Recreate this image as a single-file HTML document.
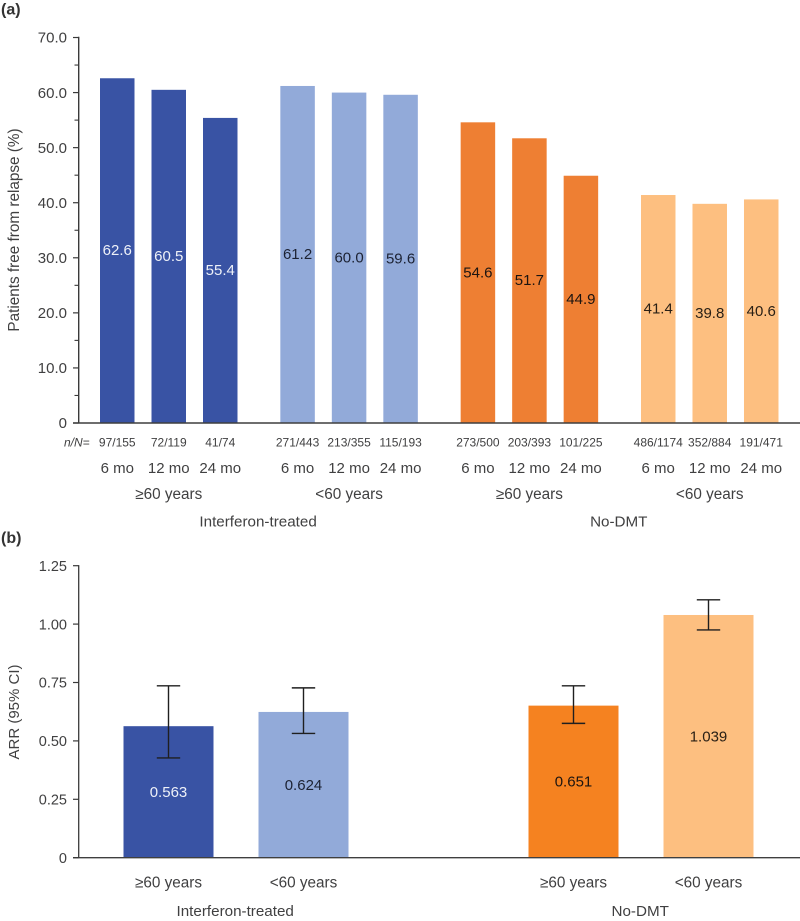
<!DOCTYPE html>
<html lang="en">
<head>
<meta charset="utf-8">
<title>Relapse-free patients and ARR</title>
<style>
html,body{margin:0;padding:0;background:#fff;}
svg{display:block;}
text{font-family:"Liberation Sans",Arial,sans-serif;fill:#404041;}
</style>
</head>
<body>
<svg id="figure" xmlns="http://www.w3.org/2000/svg" width="800" height="921" viewBox="0 0 800 921">
  <text x="1" y="14.5" font-size="16" font-weight="bold" style="fill:#333">(a)</text>
  <text x="1" y="543" font-size="16" font-weight="bold" style="fill:#333">(b)</text>
  <text transform="translate(19,230) rotate(-90)" text-anchor="middle" font-size="15.3">Patients free from relapse (%)</text>
  <text transform="translate(19,712) rotate(-90)" text-anchor="middle" font-size="15">ARR (95% CI)</text>
  <text x="64" y="446.7" font-size="12" font-style="italic">n/N=</text>
</svg>
<script>
// Panel (a) data
const relapseTicks = ["0", "10.0", "20.0", "30.0", "40.0", "50.0", "60.0", "70.0"];
const relapseTickValues = [0, 10, 20, 30, 40, 50, 60, 70];
const relapseMinorTicks = [5, 15, 25, 35, 45, 55, 65];
const relapseTimepoints = ["6 mo", "12 mo", "24 mo"];
const relapseAges = ["≥60 years", "<60 years", "≥60 years", "<60 years"];
const relapseTreatments = ["Interferon-treated", "No-DMT"];
const relapseValues = [
  [62.6, 60.5, 55.4],
  [61.2, 60.0, 59.6],
  [54.6, 51.7, 44.9],
  [41.4, 39.8, 40.6]
];
const relapseCounts = [
  ["97/155", "72/119", "41/74"],
  ["271/443", "213/355", "115/193"],
  ["273/500", "203/393", "101/225"],
  ["486/1174", "352/884", "191/471"]
];

// Panel (b) data
const arrTicks = ["0", "0.25", "0.50", "0.75", "1.00", "1.25"];
const arrTickValues = [0, 0.25, 0.5, 0.75, 1.0, 1.25];
const arrAges = ["≥60 years", "<60 years", "≥60 years", "<60 years"];
const arrTreatments = ["Interferon-treated", "No-DMT"];
const arrValues = [0.563, 0.624, 0.651, 1.039];
const arrLower = [0.427, 0.532, 0.575, 0.975];
const arrUpper = [0.736, 0.727, 0.736, 1.104];

const svg = document.getElementById('figure');
const NS = 'http://www.w3.org/2000/svg';

function make(tag, attrs, content) {
  const node = document.createElementNS(NS, tag);
  for (const k in attrs) node.setAttribute(k, attrs[k]);
  if (content !== undefined) node.textContent = content;
  svg.appendChild(node);
  return node;
}

// Axis functions
const yA = v => 423 - v * 5.507;
const yB = v => 857.7 - v * 233.6;
const xA = (group, slot) => 117.25 + group * 180.33 + slot * 51.5;
const groupCenterA = group => xA(group, 1);
const treatmentCenterA = t => (xA(t * 2, 0) + xA(t * 2 + 1, 2)) / 2 - 0.8;
const xB = idx => 168.5 + Math.floor(idx / 2) * 405 + (idx % 2) * 135;
const treatmentCenterB = t => (xB(t * 2) + xB(t * 2 + 1)) / 2 - 0.8;

const barColorsA = ['#3953a4', '#92aad9', '#ee7f33', '#fdbf80'];
const barColorsB = ['#3953a4', '#92aad9', '#f58220', '#fdbf80'];
const labelColors = ['#eef1f8', '#1c2233', '#1c1410', '#2a2015'];
let el;

// Panel (a) bars
relapseValues.forEach((series, g) => {
  series.forEach((v, i) => {
    const cx = xA(g, i);
    el = make('rect', {x: cx - 17.25, y: yA(v), width: 34.5, height: yA(0) - yA(v), fill: barColorsA[g]});
    
    
    el = make('text', {x: cx, y: (yA(v) + yA(0)) / 2 + 4.6, 'text-anchor': 'middle', 'font-size': 15, style: 'fill:' + labelColors[g]}, v.toFixed(1));
    
    
    el = make('text', {x: cx, y: 446.7, 'text-anchor': 'middle', 'font-size': 12}, relapseCounts[g][i]);
    
    
    el = make('text', {x: cx, y: 473, 'text-anchor': 'middle', 'font-size': 15}, relapseTimepoints[i]);
    
    
  });
  el = make('text', {x: groupCenterA(g), y: 499, 'text-anchor': 'middle', 'font-size': 15.3}, relapseAges[g]);
  
  
});
relapseTreatments.forEach((t, i) => {
  el = make('text', {x: treatmentCenterA(i), y: 526.7, 'text-anchor': 'middle', 'font-size': 15.2}, t);
  
  
});

// Panel (a) axes
el = make('line', {x1: 78.7, x2: 78.7, y1: yA(70) - 0.7, y2: yA(0), stroke: '#3a3a3a', 'stroke-width': 1.4});


el = make('line', {x1: 73, x2: 800, y1: yA(0), y2: yA(0), stroke: '#3f3f3f', 'stroke-width': 1.4});


relapseTickValues.forEach((v, i) => {
  el = make('line', {x1: 73, x2: 78.7, y1: yA(v), y2: yA(v), stroke: '#3a3a3a', 'stroke-width': 1.2});
  
  
  el = make('text', {x: 67, y: yA(v) + 5.2, 'text-anchor': 'end', 'font-size': 15}, relapseTicks[i]);
  
  
});
relapseMinorTicks.forEach(v => {
  el = make('line', {x1: 74.5, x2: 78.7, y1: yA(v), y2: yA(v), stroke: '#3a3a3a', 'stroke-width': 1.1});
  
  
});

// Panel (b) bars
arrValues.forEach((v, i) => {
  const cx = xB(i);
  el = make('rect', {x: cx - 45, y: yB(v), width: 90, height: yB(0) - yB(v), fill: barColorsB[i]});
  
  
  el = make('line', {x1: cx, x2: cx, y1: yB(arrLower[i]), y2: yB(arrUpper[i]), stroke: '#1f1f1f', 'stroke-width': 1.4});
  
  
  el = make('line', {x1: cx - 11.7, x2: cx + 11.7, y1: yB(arrUpper[i]), y2: yB(arrUpper[i]), stroke: '#1f1f1f', 'stroke-width': 1.4});
  
  
  el = make('line', {x1: cx - 11.7, x2: cx + 11.7, y1: yB(arrLower[i]), y2: yB(arrLower[i]), stroke: '#1f1f1f', 'stroke-width': 1.4});
  
  
  el = make('text', {x: cx, y: (yB(v) + yB(0)) / 2 + 5, 'text-anchor': 'middle', 'font-size': 15, style: 'fill:' + labelColors[i]}, v.toFixed(3));
  
  
  el = make('text', {x: cx, y: 887.7, 'text-anchor': 'middle', 'font-size': 15.3}, arrAges[i]);
  
  
});
arrTreatments.forEach((t, i) => {
  el = make('text', {x: treatmentCenterB(i), y: 916, 'text-anchor': 'middle', 'font-size': 15.2}, t);
  
  
});

// Panel (b) axes
el = make('line', {x1: 78.7, x2: 78.7, y1: yB(1.25) - 0.6, y2: yB(0), stroke: '#3a3a3a', 'stroke-width': 1.3});


el = make('line', {x1: 73, x2: 800, y1: yB(0), y2: yB(0), stroke: '#3f3f3f', 'stroke-width': 1.3});


arrTickValues.forEach((v, i) => {
  el = make('line', {x1: 73, x2: 78.7, y1: yB(v), y2: yB(v), stroke: '#3a3a3a', 'stroke-width': 1.2});
  
  
  el = make('text', {x: 67, y: yB(v) + 5.2, 'text-anchor': 'end', 'font-size': 14.5}, arrTicks[i]);
  
  
});
</script>
</body>
</html>
